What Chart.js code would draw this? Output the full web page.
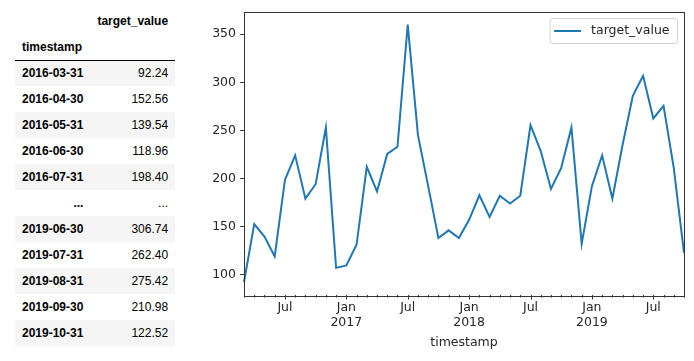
<!DOCTYPE html>
<html>
<head>
<meta charset="utf-8">
<script src="https://cdn.jsdelivr.net/npm/chart.js@4.4.1/dist/chart.umd.min.js"></script>
<style>
  html, body { margin: 0; padding: 0; background: #fff; width: 694px; height: 361px; overflow: hidden; }
  #tbl { position: absolute; left: 15px; top: 7px; border-collapse: collapse; font-family: "Liberation Sans", Arial, sans-serif; font-size: 12px; color: #000; }
  #tbl th, #tbl td { padding: 0 7px; white-space: nowrap; }
  #tbl thead tr.h1 { height: 27px; }
  #tbl thead tr.h2 { height: 26px; }
  #tbl thead { border-bottom: 1px solid #000; }
  #tbl tbody tr { height: 26px; }
  #tbl tbody tr:nth-child(odd) { background: #f5f5f5; }
  #tbl th { font-weight: bold; text-align: right; }
  #tbl td { text-align: right; }
  #tbl th.left { text-align: left; }
  #wrap { position: absolute; left: 180px; top: 0; width: 514px; height: 361px; }
</style>
</head>
<body>
<table id="tbl">
  <thead>
    <tr class="h1"><th></th><th id="colname"></th></tr>
    <tr class="h2"><th class="left" id="idxname"></th><th></th></tr>
  </thead>
  <tbody id="tbody"></tbody>
</table>
<div id="wrap"><canvas id="c" width="514" height="361"></canvas></div>
<script>
// ---- data ----
const seriesName = 'target_value';
const indexName = 'timestamp';

const timestamps = [
  '2016-03-31','2016-04-30','2016-05-31','2016-06-30','2016-07-31','2016-08-31','2016-09-30','2016-10-31','2016-11-30','2016-12-31',
  '2017-01-31','2017-02-28','2017-03-31','2017-04-30','2017-05-31','2017-06-30','2017-07-31','2017-08-31','2017-09-30','2017-10-31','2017-11-30','2017-12-31',
  '2018-01-31','2018-02-28','2018-03-31','2018-04-30','2018-05-31','2018-06-30','2018-07-31','2018-08-31','2018-09-30','2018-10-31','2018-11-30','2018-12-31',
  '2019-01-31','2019-02-28','2019-03-31','2019-04-30','2019-05-31','2019-06-30','2019-07-31','2019-08-31','2019-09-30','2019-10-31'
];
const targetValues = [
  92.24, 152.56, 139.54, 118.96, 198.40, 224.0, 179.0, 194.0, 253.0, 107.0,
  109.5, 131.0, 212.0, 186.5, 225.5, 233.0, 360.0, 245.0, 192.0, 138.0, 146.0, 138.0,
  157.0, 182.5, 160.0, 182.0, 174.0, 182.0, 255.5, 228.5, 189.0, 211.0, 253.0, 132.0,
  192.0, 224.0, 179.0, 235.0, 286.0, 306.74, 262.40, 275.42, 210.98, 122.52
];

const yTickValues = [100, 150, 200, 250, 300, 350];
const xTickDates = ['2016-07-31','2017-01-31','2017-07-31','2018-01-31','2018-07-31','2019-01-31','2019-07-31'];
const xTickLabels = ['Jul', ['Jan','2017'], 'Jul', ['Jan','2018'], 'Jul', ['Jan','2019'], 'Jul'];

const tableHeadDates = ['2016-03-31','2016-04-30','2016-05-31','2016-06-30','2016-07-31'];
const tableHeadValues = ['92.24','152.56','139.54','118.96','198.40'];
const tableTailDates = ['2019-06-30','2019-07-31','2019-08-31','2019-09-30','2019-10-31'];
const tableTailValues = ['306.74','262.40','275.42','210.98','122.52'];

// ---- table ----
document.getElementById('colname').textContent = seriesName;
document.getElementById('idxname').textContent = indexName;
const tb = document.getElementById('tbody');
function addRow(a, b) {
  const tr = document.createElement('tr');
  const th = document.createElement('th'); th.textContent = a;
  const td = document.createElement('td'); td.textContent = b;
  tr.appendChild(th); tr.appendChild(td); tb.appendChild(tr);
}
tableHeadDates.forEach((d, i) => addRow(d, tableHeadValues[i]));
addRow('...', '...');
tableTailDates.forEach((d, i) => addRow(d, tableTailValues[i]));

// ---- chart ----
const FONT = 'DejaVu Sans';
const TXT = '#262626';
const FS = 12.5;

const framePlugin = {
  id: 'frame',
  afterDatasetsDraw(chart) {
    const ctx = chart.ctx, a = chart.chartArea;
    const xs = chart.scales.x;
    ctx.save();
    ctx.strokeStyle = '#333';
    ctx.lineWidth = 1;
    // x tick marks (monthly minor, labeled major)
    for (let i = 0; i < timestamps.length; i++) {
      const px = Math.round(xs.getPixelForValue(i)) + 0.5;
      const major = xTickDates.indexOf(timestamps[i]) >= 0;
      ctx.beginPath();
      ctx.moveTo(px, a.bottom);
      ctx.lineTo(px, a.bottom + (major ? 4.5 : 2.5));
      ctx.stroke();
    }
    ctx.strokeRect(Math.round(a.left) + 0.5, Math.round(a.top) + 0.5, Math.round(a.right - a.left), Math.round(a.bottom - a.top));
    // legend
    const label = chart.data.datasets[0].label;
    ctx.font = FS + 'px "' + FONT + '"';
    const tw = ctx.measureText(label).width;
    const bx2 = a.right - 7, by1 = a.top + 6.5;
    const bw = tw + 49, bh = 25;
    const bx1 = bx2 - bw;
    ctx.fillStyle = 'rgba(255,255,255,0.8)';
    ctx.strokeStyle = '#d0d0d0';
    ctx.beginPath();
    ctx.roundRect(bx1 + 0.5, by1 + 0.5, bw, bh, 3);
    ctx.fill(); ctx.stroke();
    const cy = by1 + bh / 2 + 0.5;
    ctx.strokeStyle = chart.data.datasets[0].borderColor;
    ctx.lineWidth = 2;
    ctx.beginPath();
    ctx.moveTo(bx1 + 4.5, cy); ctx.lineTo(bx1 + 31.5, cy); ctx.stroke();
    ctx.fillStyle = TXT;
    ctx.textBaseline = 'middle';
    ctx.textAlign = 'left';
    ctx.fillText(label, bx1 + 41.5, cy);
    ctx.restore();
  }
};

new Chart(document.getElementById('c'), {
  type: 'line',
  data: {
    labels: timestamps,
    datasets: [{
      label: seriesName,
      data: targetValues,
      borderColor: '#1f77b4',
      borderWidth: 2,
      pointRadius: 0,
      tension: 0,
      fill: false
    }]
  },
  options: {
    responsive: false,
    animation: false,
    devicePixelRatio: 1,
    layout: { padding: { top: 10, right: 10, left: 0, bottom: 0 } },
    plugins: { legend: { display: false }, tooltip: { enabled: false } },
    scales: {
      x: {
        type: 'category',
        offset: false,
        border: { display: false },
        grid: { display: false, drawOnChartArea: false, drawTicks: false },
        ticks: {
          autoSkip: false, maxRotation: 0, minRotation: 0,
          padding: 5,
          color: TXT, font: { family: FONT, size: FS, lineHeight: 1.2 },
          callback: function (v, i) {
            const k = xTickDates.indexOf(timestamps[i]);
            return k >= 0 ? xTickLabels[k] : '';
          }
        },
        title: { display: true, text: indexName, color: TXT, font: { family: FONT, size: FS }, padding: { top: 0, bottom: 11 } },
        afterFit(s) { s.height = 66; }
      },
      y: {
        min: 78.8, max: 373.6,
        border: { display: false },
        grid: { drawOnChartArea: false, drawTicks: true, tickLength: 4, tickColor: '#333', tickWidth: 1 },
        ticks: { padding: 4, color: TXT, font: { family: FONT, size: FS } },
        afterBuildTicks(s) { s.ticks = yTickValues.map(v => ({ value: v })); },
        afterFit(s) { s.width = 64; }
      }
    }
  },
  plugins: [framePlugin]
});
</script>
</body>
</html>
